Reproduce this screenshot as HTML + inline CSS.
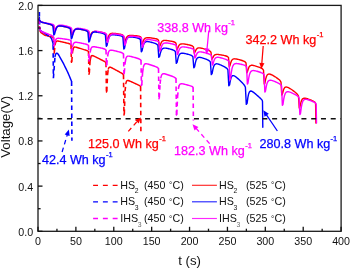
<!DOCTYPE html>
<html><head><meta charset="utf-8"><style>
html,body{margin:0;padding:0;background:#fff;width:350px;height:268px;overflow:hidden}
svg{display:block;font-family:"Liberation Sans",sans-serif;will-change:transform}
</style></head><body>
<svg width="350" height="268" viewBox="0 0 350 268">
<path d="M40 31 L41 32.6 L42.5 33.6 L45 35.3 L45.76 35.48 L46.52 35.65 L47.27 35.83 L48.03 36.01 L48.79 36.18 L49.55 36.37 L50.3 36.55 L51.06 36.75 L51.82 36.97 L52.58 37.24 L53.5 37.8" fill="none" stroke="#ff0000" stroke-width="1.45" stroke-linejoin="round" stroke-linecap="round" />
<path d="M53.95 53.4 L54.3 52.4" fill="none" stroke="#ff0000" stroke-width="1.45" stroke-linejoin="round" stroke-linecap="round" />
<path d="M55.06 44.78 L55.82 41.98 L56.57 41.15 L57.33 40.98 L58.09 41.04 L58.85 41.18 L59.6 41.34 L60.36 41.51 L61.12 41.68 L61.88 41.86 L62.63 42.03 L63.39 42.21 L64.15 42.39 L64.91 42.56 L65.66 42.74 L66.42 42.92 L67.18 43.1 L67.94 43.29 L68.69 43.49 L69.45 43.71 L70.21 44 L71 44.5" fill="none" stroke="#ff0000" stroke-width="1.45" stroke-linejoin="round" stroke-linecap="round" />
<path d="M71.45 62.3 L71.8 61.3" fill="none" stroke="#ff0000" stroke-width="1.45" stroke-linejoin="round" stroke-linecap="round" />
<path d="M73.31 48.24 L74.07 47.23 L74.83 47.04 L75.59 47.12 L76.34 47.3 L77.1 47.52 L77.86 47.74 L78.62 47.97 L79.38 48.2 L80.13 48.43 L80.89 48.66 L81.65 48.89 L82.41 49.12 L83.16 49.35 L83.92 49.58 L84.68 49.82 L85.44 50.06 L86.19 50.31 L86.95 50.6 L87.71 50.93 L88.5 51.5" fill="none" stroke="#ff0000" stroke-width="1.45" stroke-linejoin="round" stroke-linecap="round" />
<path d="M88.95 74.2 L89.3 73.2" fill="none" stroke="#ff0000" stroke-width="1.45" stroke-linejoin="round" stroke-linecap="round" />
<path d="M90.81 56.9 L91.57 55.73 L92.33 55.58 L93.09 55.78 L93.84 56.1 L94.6 56.46 L95.36 56.83 L96.12 57.21 L96.88 57.59 L97.63 57.97 L98.39 58.35 L99.15 58.72 L99.91 59.1 L100.66 59.48 L101.42 59.86 L102.18 60.25 L102.94 60.64 L103.69 61.04 L104.45 61.47 L105.21 61.96 L106 62.7" fill="none" stroke="#ff0000" stroke-width="1.45" stroke-linejoin="round" stroke-linecap="round" />
<path d="M106.45 92.1 L106.8 91.1" fill="none" stroke="#ff0000" stroke-width="1.45" stroke-linejoin="round" stroke-linecap="round" />
<path d="M108.31 69.02 L109.07 67.38 L109.83 67.1 L110.59 67.27 L111.34 67.6 L112.1 67.99 L112.86 68.39 L113.62 68.79 L114.38 69.2 L115.13 69.61 L115.89 70.02 L116.65 70.43 L117.41 70.85 L118.16 71.26 L118.92 71.67 L119.68 72.09 L120.44 72.51 L121.19 72.94 L121.95 73.4 L122.71 73.92 L123.5 74.7" fill="none" stroke="#ff0000" stroke-width="1.45" stroke-linejoin="round" stroke-linecap="round" />
<path d="M123.95 115 L124.3 114" fill="none" stroke="#ff0000" stroke-width="1.45" stroke-linejoin="round" stroke-linecap="round" />
<path d="M125.81 83.47 L126.57 81.04 L127.33 80.45 L128.09 80.48 L128.84 80.71 L129.6 81.02 L130.36 81.35 L131.12 81.69 L131.88 82.03 L132.63 82.37 L133.39 82.71 L134.15 83.06 L134.91 83.4 L135.66 83.74 L136.42 84.09 L137.18 84.44 L137.94 84.79 L138.69 85.16 L139.45 85.55 L140.21 86 L140.6 86.7" fill="none" stroke="#ff0000" stroke-width="1.45" stroke-linejoin="round" stroke-linecap="round" />
<path d="M38.8 19.5 L39.3 26 M39.3 26 L40 31 M53.5 37.8 L53.95 53.4 M54.3 52.4 L55.06 44.78 M71 44.5 L71.45 62.3 M71.8 61.3 L72.56 51.69 M72.56 51.69 L73.31 48.24 M88.5 51.5 L88.95 74.2 M89.3 73.2 L90.06 61.09 M90.06 61.09 L90.81 56.9 M106 62.7 L106.45 92.1 M106.8 91.1 L107.56 74.66 M107.56 74.66 L108.31 69.02 M123.5 74.7 L123.95 115 M124.3 114 L125.06 91.28 M125.06 91.28 L125.81 83.47 M140.6 86.7 L140.9 132.9" fill="none" stroke="#ff0000" stroke-width="1.5999999999999999" stroke-dasharray="4.5 3.5"/>
<path d="M39.4 17.5 L39.5 20" fill="none" stroke="#0000ff" stroke-width="1.45" stroke-linejoin="round" stroke-linecap="round" />
<path d="M39.7 28.9 L40.6 30.6 L42 31.6" fill="none" stroke="#0000ff" stroke-width="1.45" stroke-linejoin="round" stroke-linecap="round" />
<path d="M50.2 37.1 L51.5 38.6 L52.26 40.87 L53.02 43.19 L53.1 45.3" fill="none" stroke="#0000ff" stroke-width="1.45" stroke-linejoin="round" stroke-linecap="round" />
<path d="M55 56.5 L55 56.5 L55.6 54.2 L56.4 53.2 L57.2 53.2 L58 54 L59 55.5 L60 57.3 L61.13 59.33 L62.27 61.37 L63.4 63.4 L64.3 65.24 L65.2 67.08 L66.1 68.92 L67 70.76 L67.9 72.6 L68.68 74.45 L69.45 76.3 L70.22 78.15 L71 80 L71.6 81.6" fill="none" stroke="#0000ff" stroke-width="1.45" stroke-linejoin="round" stroke-linecap="round" />
<path d="M39.4 12 L39.4 17.5 M39.5 20 L39.7 28.9 M42 31.6 L45 33.4 M45 33.4 L50.2 37.1 M53.1 45.3 L53.4 78.3 M53.4 78.3 L55 56.5 M71.6 81.6 L71.9 140.8" fill="none" stroke="#0000ff" stroke-width="1.5999999999999999" stroke-dasharray="4.5 3.5"/>
<path d="M40.3 30 L41.2 31.3 L42.5 32 L45 32.8 L45.76 33.1 L46.52 33.4 L47.27 33.7 L48.03 34 L48.79 34.3 L49.55 34.61 L50.3 34.93 L51.06 35.26 L51.82 35.63 L52.58 36.08 L53.5 37" fill="none" stroke="#ff00ff" stroke-width="1.45" stroke-linejoin="round" stroke-linecap="round" />
<path d="M53.95 45.9 L54.3 44.9" fill="none" stroke="#ff00ff" stroke-width="1.45" stroke-linejoin="round" stroke-linecap="round" />
<path d="M55.06 41.39 L55.82 39.48 L56.57 38.7 L57.33 38.4 L58.09 38.32 L58.85 38.34 L59.6 38.39 L60.36 38.47 L61.12 38.55 L61.88 38.65 L62.63 38.74 L63.39 38.85 L64.15 38.95 L64.91 39.06 L65.66 39.17 L66.42 39.28 L67.18 39.4 L67.94 39.53 L68.69 39.69 L69.45 39.89 L70.21 40.18 L71 40.8" fill="none" stroke="#ff00ff" stroke-width="1.45" stroke-linejoin="round" stroke-linecap="round" />
<path d="M71.45 53.4 L71.8 52.4" fill="none" stroke="#ff00ff" stroke-width="1.45" stroke-linejoin="round" stroke-linecap="round" />
<path d="M72.56 46.8 L73.31 44 L74.07 42.86 L74.83 42.43 L75.59 42.31 L76.34 42.32 L77.1 42.4 L77.86 42.51 L78.62 42.63 L79.38 42.77 L80.13 42.91 L80.89 43.05 L81.65 43.2 L82.41 43.35 L83.16 43.51 L83.92 43.67 L84.68 43.84 L85.44 44.02 L86.19 44.23 L86.95 44.48 L87.71 44.82 L88.5 45.5" fill="none" stroke="#ff00ff" stroke-width="1.45" stroke-linejoin="round" stroke-linecap="round" />
<path d="M88.95 61.1 L89.3 60.1" fill="none" stroke="#ff00ff" stroke-width="1.45" stroke-linejoin="round" stroke-linecap="round" />
<path d="M90.81 49.02 L91.57 47.53 L92.33 46.95 L93.09 46.77 L93.84 46.76 L94.6 46.83 L95.36 46.94 L96.12 47.07 L96.88 47.2 L97.63 47.35 L98.39 47.5 L99.15 47.65 L99.91 47.81 L100.66 47.97 L101.42 48.14 L102.18 48.31 L102.94 48.5 L103.69 48.71 L104.45 48.96 L105.21 49.32 L106 50" fill="none" stroke="#ff00ff" stroke-width="1.45" stroke-linejoin="round" stroke-linecap="round" />
<path d="M106.45 65.6 L106.8 64.6" fill="none" stroke="#ff00ff" stroke-width="1.45" stroke-linejoin="round" stroke-linecap="round" />
<path d="M108.31 52.57 L109.07 50.97 L109.83 50.36 L110.59 50.17 L111.34 50.18 L112.1 50.27 L112.86 50.4 L113.62 50.55 L114.38 50.72 L115.13 50.89 L115.89 51.07 L116.65 51.25 L117.41 51.44 L118.16 51.63 L118.92 51.83 L119.68 52.03 L120.44 52.25 L121.19 52.5 L121.95 52.79 L122.71 53.17 L123.5 53.9" fill="none" stroke="#ff00ff" stroke-width="1.45" stroke-linejoin="round" stroke-linecap="round" />
<path d="M123.95 73.7 L124.3 72.7" fill="none" stroke="#ff00ff" stroke-width="1.45" stroke-linejoin="round" stroke-linecap="round" />
<path d="M125.81 58.82 L126.57 57 L127.33 56.3 L128.09 56.1 L128.84 56.1 L129.6 56.21 L130.36 56.36 L131.12 56.54 L131.88 56.73 L132.63 56.93 L133.39 57.14 L134.15 57.35 L134.91 57.57 L135.66 57.79 L136.42 58.02 L137.18 58.26 L137.94 58.51 L138.69 58.79 L139.45 59.11 L140.21 59.53 L141 60.3" fill="none" stroke="#ff00ff" stroke-width="1.45" stroke-linejoin="round" stroke-linecap="round" />
<path d="M141.45 85.6 L141.8 84.6" fill="none" stroke="#ff00ff" stroke-width="1.45" stroke-linejoin="round" stroke-linecap="round" />
<path d="M143.31 67.17 L144.07 64.9 L144.83 64.03 L145.59 63.76 L146.34 63.76 L147.1 63.88 L147.86 64.06 L148.62 64.26 L149.37 64.48 L150.13 64.71 L150.89 64.95 L151.65 65.2 L152.4 65.45 L153.16 65.71 L153.92 65.98 L154.68 66.25 L155.43 66.55 L156.19 66.86 L156.95 67.22 L157.71 67.69 L158.5 68.5" fill="none" stroke="#ff00ff" stroke-width="1.45" stroke-linejoin="round" stroke-linecap="round" />
<path d="M158.95 98.7 L159.3 97.7" fill="none" stroke="#ff00ff" stroke-width="1.45" stroke-linejoin="round" stroke-linecap="round" />
<path d="M160.81 77.68 L161.57 75.08 L162.33 74.06 L163.09 73.74 L163.84 73.72 L164.6 73.83 L165.36 74.01 L166.12 74.22 L166.87 74.45 L167.63 74.69 L168.39 74.94 L169.15 75.2 L169.9 75.46 L170.66 75.73 L171.42 76.01 L172.18 76.3 L172.93 76.6 L173.69 76.92 L174.45 77.3 L175.21 77.77 L176 78.6" fill="none" stroke="#ff00ff" stroke-width="1.45" stroke-linejoin="round" stroke-linecap="round" />
<path d="M176.45 115.1 L176.8 114.1" fill="none" stroke="#ff00ff" stroke-width="1.45" stroke-linejoin="round" stroke-linecap="round" />
<path d="M179.07 85.68 L179.83 84.35 L180.59 83.86 L181.34 83.74 L182.1 83.78 L182.86 83.9 L183.62 84.06 L184.37 84.23 L185.13 84.41 L185.89 84.6 L186.65 84.8 L187.4 85 L188.16 85.21 L188.92 85.42 L189.68 85.65 L190.43 85.88 L191.19 86.14 L191.95 86.45 L192.71 86.85 L193.1 87.6" fill="none" stroke="#ff00ff" stroke-width="1.45" stroke-linejoin="round" stroke-linecap="round" />
<path d="M38.8 19.3 L39.4 26.5 M39.4 26.5 L40.3 30 M53.5 37 L53.95 45.9 M54.3 44.9 L55.06 41.39 M71 40.8 L71.45 53.4 M71.8 52.4 L72.56 46.8 M88.5 45.5 L88.95 61.1 M89.3 60.1 L90.06 52.62 M90.06 52.62 L90.81 49.02 M106 50 L106.45 65.6 M106.8 64.6 L107.56 56.45 M107.56 56.45 L108.31 52.57 M123.5 53.9 L123.95 73.7 M124.3 72.7 L125.06 63.25 M125.06 63.25 L125.81 58.82 M141 60.3 L141.45 85.6 M141.8 84.6 L142.56 72.66 M142.56 72.66 L143.31 67.17 M158.5 68.5 L158.95 98.7 M159.3 97.7 L160.06 83.94 M160.06 83.94 L160.81 77.68 M176 78.6 L176.45 115.1 M176.8 114.1 L177.56 96.79 M177.56 96.79 L178.31 88.98 M178.31 88.98 L179.07 85.68 M193.1 87.6 L193.4 120.4" fill="none" stroke="#ff00ff" stroke-width="1.5999999999999999" stroke-dasharray="4.5 3.5"/>
<path d="M38.8 19.2 L39.6 20.6 L40.6 21.6 L42 22.3 L42.76 22.5 L43.52 22.69 L44.27 22.89 L45.03 23.08 L45.79 23.28 L46.55 23.48 L47.3 23.67 L48.06 23.87 L48.82 24.07 L49.58 24.28 L50.33 24.5 L51.09 24.74 L51.85 25.04 L52.6 25.45 L53.5 26.4 L54.25 31.3 L54.9 30.3 L55.66 28.75 L56.41 27.32 L57.17 26.53 L57.93 26.12 L58.69 25.93 L59.45 25.88 L60.2 25.91 L60.96 25.99 L61.72 26.1 L62.47 26.23 L63.23 26.38 L63.99 26.54 L64.75 26.7 L65.5 26.88 L66.26 27.06 L67.02 27.25 L67.78 27.46 L68.53 27.7 L69.29 27.99 L70.05 28.4 L71 29.4 L71.75 34.72 L72.4 33.72 L73.16 32.04 L73.91 30.51 L74.67 29.67 L75.43 29.23 L76.19 29.01 L76.94 28.94 L77.7 28.95 L78.46 29.02 L79.22 29.11 L79.97 29.23 L80.73 29.36 L81.49 29.5 L82.25 29.65 L83 29.81 L83.76 29.98 L84.52 30.15 L85.28 30.34 L86.03 30.56 L86.79 30.84 L87.55 31.23 L88.5 32.2 L89.25 37.7 L89.9 36.7 L90.66 34.89 L91.41 33.29 L92.17 32.39 L92.93 31.9 L93.69 31.66 L94.44 31.55 L95.2 31.54 L95.96 31.57 L96.72 31.64 L97.47 31.72 L98.23 31.82 L98.99 31.94 L99.75 32.05 L100.5 32.18 L101.26 32.31 L102.02 32.45 L102.78 32.61 L103.53 32.79 L104.29 33.03 L105.05 33.38 L106 34.3 L106.75 40.52 L107.4 39.52 L108.16 37.28 L108.91 35.43 L109.67 34.38 L110.43 33.8 L111.19 33.5 L111.94 33.36 L112.7 33.32 L113.46 33.33 L114.22 33.39 L114.97 33.46 L115.73 33.55 L116.49 33.65 L117.25 33.75 L118 33.87 L118.76 33.99 L119.52 34.12 L120.28 34.26 L121.03 34.43 L121.79 34.66 L122.55 35 L123.5 35.9 L124.25 42.54 L124.9 41.54 L125.66 39.41 L126.41 37.6 L127.17 36.57 L127.93 35.99 L128.69 35.67 L129.44 35.51 L130.2 35.44 L130.96 35.43 L131.72 35.44 L132.47 35.48 L133.23 35.53 L133.99 35.59 L134.75 35.66 L135.5 35.73 L136.26 35.8 L137.02 35.89 L137.78 35.98 L138.53 36.11 L139.29 36.28 L140.05 36.57 L141 37.4 L141.75 44.16 L142.4 43.16 L143.16 41.24 L143.91 39.56 L144.67 38.62 L145.43 38.1 L146.19 37.83 L146.94 37.71 L147.7 37.68 L148.46 37.7 L149.22 37.75 L149.97 37.82 L150.73 37.91 L151.49 38 L152.25 38.1 L153 38.21 L153.76 38.33 L154.52 38.45 L155.28 38.59 L156.03 38.76 L156.79 38.98 L157.55 39.31 L158.5 40.2 L159.25 46.96 L159.9 45.96 L160.66 43.96 L161.41 42.25 L162.17 41.29 L162.93 40.77 L163.69 40.51 L164.44 40.4 L165.2 40.39 L165.96 40.43 L166.72 40.5 L167.47 40.6 L168.23 40.7 L168.99 40.83 L169.75 40.95 L170.5 41.09 L171.26 41.23 L172.02 41.39 L172.78 41.55 L173.53 41.75 L174.29 42 L175.05 42.36 L176 43.3 L176.75 49.88 L177.4 48.88 L178.16 47.09 L178.91 45.5 L179.67 44.62 L180.43 44.16 L181.19 43.93 L181.94 43.85 L182.7 43.86 L183.46 43.92 L184.22 44.02 L184.97 44.13 L185.73 44.26 L186.49 44.4 L187.25 44.55 L188 44.71 L188.76 44.88 L189.52 45.05 L190.28 45.24 L191.03 45.46 L191.79 45.74 L192.55 46.13 L193.5 47.1 L194.25 53.2 L194.9 52.2 L195.66 50.63 L196.41 49.19 L197.17 48.42 L197.93 48.03 L198.69 47.88 L199.44 47.87 L200.2 47.94 L200.96 48.07 L201.72 48.23 L202.47 48.41 L203.23 48.61 L203.99 48.83 L204.75 49.05 L205.5 49.28 L206.26 49.53 L207.02 49.78 L207.78 50.06 L208.53 50.36 L209.29 50.72 L210.05 51.2 L211 52.3 L211.75 59.36 L212.4 58.36 L213.16 57.03 L213.91 55.72 L214.67 55 L215.43 54.62 L216.19 54.44 L216.94 54.39 L217.7 54.41 L218.46 54.48 L219.22 54.58 L219.97 54.69 L220.73 54.82 L221.49 54.96 L222.25 55.1 L223 55.25 L223.76 55.41 L224.52 55.58 L225.28 55.77 L226.03 55.98 L226.79 56.25 L227.55 56.63 L228.5 57.6 L229.25 66.76 L229.9 65.76 L230.66 63.07 L231.41 60.98 L232.17 59.82 L232.93 59.21 L233.69 58.92 L234.44 58.82 L235.2 58.84 L235.96 58.93 L236.72 59.06 L237.47 59.22 L238.23 59.4 L238.99 59.6 L239.75 59.8 L240.5 60.02 L241.26 60.25 L242.02 60.48 L242.78 60.74 L243.53 61.03 L244.29 61.37 L245.05 61.83 L246 62.9 L246.75 72.78 L247.4 71.78 L248.16 69.22 L248.91 67.22 L249.67 66.13 L250.43 65.57 L251.19 65.32 L251.94 65.26 L252.7 65.32 L253.46 65.45 L254.22 65.63 L254.97 65.83 L255.73 66.05 L256.49 66.3 L257.25 66.55 L258 66.82 L258.76 67.09 L259.52 67.38 L260.28 67.69 L261.04 68.03 L261.79 68.43 L262.55 68.95 L263.5 70.1 L264.25 84 L264.9 83 L265.66 79.15 L266.42 76.46 L267.17 75.02 L267.93 74.32 L268.69 74.06 L269.45 74.06 L270.2 74.23 L270.96 74.5 L271.72 74.84 L272.48 75.22 L273.23 75.64 L273.99 76.08 L274.75 76.55 L275.51 77.03 L276.26 77.53 L277.02 78.05 L277.78 78.59 L278.54 79.18 L279.29 79.82 L280.05 80.59 L281 82.1 L281.75 95 L282.4 94 L283.16 91 L283.92 88.81 L284.67 87.69 L285.43 87.18 L286.19 87.06 L286.95 87.16 L287.7 87.4 L288.46 87.73 L289.22 88.12 L289.98 88.56 L290.73 89.03 L291.49 89.52 L292.25 90.04 L293.01 90.58 L293.76 91.14 L294.52 91.72 L295.28 92.32 L296.04 92.96 L296.79 93.67 L297.55 94.5 L298.5 96.1 L299.25 108 L299.9 107 L300.66 103.4 L301.42 100.8 L302.17 99.37 L302.93 98.62 L303.69 98.28 L304.45 98.18 L305.2 98.23 L305.96 98.36 L306.72 98.55 L307.48 98.78 L308.23 99.04 L308.99 99.31 L309.75 99.6 L310.51 99.9 L311.26 100.22 L312.02 100.55 L312.78 100.9 L313.54 101.28 L314.29 101.73 L315.05 102.28 L315.6 103.5 L315.9 123" fill="none" stroke="#ff0000" stroke-width="1.4" stroke-linejoin="round" stroke-linecap="round" />
<path d="M96.42 32.07 L97.17 32.18 L97.93 32.3 L98.69 32.44 L99.45 32.6 L100.2 32.76 L100.96 32.93 L101.72 33.11 L102.48 33.31 L103.23 33.55 L103.99 33.87 L104.75 34.33 L105.4 35.1 L106.3 46.2 L107.1 45.2 L107.86 41.17 L108.61 38.27 L109.37 36.62 L110.13 35.69 L110.89 35.18 L111.64 34.92 L112.4 34.8 L113.16 34.78 L113.92 34.8 L114.67 34.86 L115.43 34.94 L116.19 35.03 L116.95 35.14 L117.7 35.25 L118.46 35.36 L119.22 35.49 L119.98 35.64 L120.73 35.83 L121.49 36.08 L122.25 36.49 L122.9 37.2 L123.8 49 L124.6 48 L125.36 43.64 L126.11 40.56 L126.87 38.81 L127.63 37.83 L128.39 37.3 L129.14 37.04 L129.9 36.93 L130.66 36.92 L131.42 36.96 L132.17 37.04 L132.93 37.15 L133.69 37.26 L134.45 37.39 L135.2 37.53 L135.96 37.68 L136.72 37.84 L137.48 38.02 L138.23 38.23 L138.99 38.52 L139.75 38.96 L140.4 39.7 L141.3 51.7 L142.1 50.7 L142.86 47.07 L143.61 44.44 L144.37 42.96 L145.13 42.16 L145.89 41.76 L146.64 41.59 L147.4 41.57 L148.16 41.63 L148.92 41.75 L149.67 41.9 L150.43 42.07 L151.19 42.26 L151.95 42.46 L152.7 42.67 L153.46 42.89 L154.22 43.13 L154.98 43.38 L155.73 43.68 L156.49 44.05 L157.25 44.57 L157.9 45.4 L158.8 57.4 L159.6 56.4 L160.36 53.15 L161.11 50.72 L161.87 49.36 L162.63 48.63 L163.39 48.26 L164.14 48.11 L164.9 48.09 L165.66 48.14 L166.42 48.25 L167.17 48.39 L167.93 48.54 L168.69 48.72 L169.45 48.9 L170.2 49.1 L170.96 49.3 L171.72 49.52 L172.48 49.76 L173.23 50.04 L173.99 50.39 L174.75 50.89 L175.4 51.7 L176.3 63.4 L177.1 62.4 L177.86 58.77 L178.61 56.13 L179.37 54.64 L180.13 53.83 L180.89 53.42 L181.64 53.24 L182.4 53.21 L183.16 53.25 L183.92 53.36 L184.67 53.49 L185.43 53.65 L186.19 53.82 L186.95 54 L187.7 54.2 L188.46 54.4 L189.22 54.62 L189.98 54.86 L190.73 55.14 L191.49 55.49 L192.25 55.99 L192.9 56.8 L193.8 67.7 L194.6 66.7 L195.36 62.88 L196.11 60.15 L196.87 58.64 L197.63 57.83 L198.39 57.45 L199.14 57.32 L199.9 57.34 L200.66 57.45 L201.42 57.62 L202.17 57.82 L202.93 58.05 L203.69 58.3 L204.45 58.57 L205.2 58.85 L205.96 59.14 L206.72 59.45 L207.48 59.78 L208.23 60.15 L208.99 60.59 L209.75 61.19 L210.4 62.1 L211.3 74.6 L212.1 73.6 L212.86 69.51 L213.61 66.64 L214.37 65.07 L215.13 64.26 L215.89 63.9 L216.64 63.81 L217.4 63.88 L218.16 64.05 L218.92 64.28 L219.67 64.56 L220.43 64.86 L221.19 65.19 L221.95 65.54 L222.7 65.9 L223.46 66.28 L224.22 66.67 L224.98 67.09 L225.73 67.56 L226.49 68.1 L227.25 68.79 L227.9 69.8 L228.8 85.8 L229.6 84.8 L230.36 80.48 L231.11 77.64 L231.87 76.23 L232.63 75.66 L233.39 75.59 L234.14 75.82 L234.9 76.23 L235.66 76.75 L236.42 77.34 L237.17 77.97 L237.93 78.64 L238.69 79.33 L239.45 80.04 L240.2 80.76 L240.96 81.5 L241.72 82.26 L242.48 83.05 L243.23 83.87 L243.99 84.78 L244.75 85.84 L245.4 87.2 L246.3 104.4 L247.1 103.4 L247.86 97.59 L248.61 93.9 L249.37 92.03 L250.13 91.22 L250.89 91.03 L251.64 91.2 L252.4 91.57 L253.16 92.07 L253.92 92.64 L254.67 93.25 L255.43 93.88 L256.19 94.53 L256.95 95.19 L257.7 95.85 L258.46 96.52 L259.22 97.2 L259.98 97.89 L260.74 98.62 L261.49 99.42 L262.25 100.36 L262.5 101.6 L262.8 127.3" fill="none" stroke="#0000ff" stroke-width="1.4" stroke-linejoin="round" stroke-linecap="round" />
<path d="M38.8 19.2 L39.6 20.6 L40.6 21.6 L42 22.3 L42.76 22.43 L43.52 22.56 L44.27 22.69 L45.03 22.82 L45.79 22.95 L46.55 23.08 L47.3 23.21 L48.06 23.35 L48.82 23.48 L49.58 23.61 L50.33 23.76 L51.09 23.91 L51.85 24.1 L52.6 24.35 L53.36 24.73 L54.1 25.5 L54.85 31.9 L55.5 30.9 L56.26 28.77 L57.02 26.99 L57.77 26 L58.53 25.47 L59.29 25.21 L60.05 25.12 L60.8 25.12 L61.56 25.18 L62.32 25.28 L63.08 25.4 L63.83 25.54 L64.59 25.69 L65.35 25.85 L66.11 26.02 L66.86 26.2 L67.62 26.39 L68.38 26.59 L69.14 26.82 L69.89 27.11 L70.65 27.51 L71.6 28.5 L72.35 35.42 L73 34.42 L73.76 32.15 L74.51 30.29 L75.27 29.25 L76.03 28.69 L76.79 28.41 L77.54 28.3 L78.3 28.29 L79.06 28.34 L79.82 28.42 L80.57 28.54 L81.33 28.66 L82.09 28.8 L82.85 28.95 L83.6 29.11 L84.36 29.28 L85.12 29.45 L85.88 29.64 L86.63 29.86 L87.39 30.14 L88.15 30.53 L89.1 31.5 L89.85 38.65 L90.5 37.65 L91.26 35.28 L92.01 33.36 L92.77 32.29 L93.53 31.7 L94.29 31.41 L95.04 31.29 L95.8 31.27 L96.56 31.31 L97.32 31.4 L98.07 31.5 L98.83 31.63 L99.59 31.76 L100.35 31.9 L101.1 32.06 L101.86 32.22 L102.62 32.39 L103.38 32.57 L104.13 32.78 L104.89 33.05 L105.65 33.43 L106.6 34.4 L107.35 42.45 L108 41.45 L108.76 38.66 L109.51 36.48 L110.27 35.24 L111.03 34.55 L111.79 34.19 L112.54 34.01 L113.3 33.95 L114.06 33.95 L114.82 34 L115.57 34.07 L116.33 34.15 L117.09 34.25 L117.85 34.36 L118.6 34.47 L119.36 34.59 L120.12 34.72 L120.88 34.86 L121.63 35.03 L122.39 35.26 L123.15 35.6 L124.1 36.5 L124.85 45.07 L125.5 44.07 L126.26 41.14 L127.01 38.88 L127.77 37.58 L128.53 36.86 L129.29 36.47 L130.04 36.27 L130.8 36.19 L131.56 36.18 L132.32 36.21 L133.07 36.26 L133.83 36.33 L134.59 36.42 L135.35 36.51 L136.1 36.6 L136.86 36.71 L137.62 36.82 L138.38 36.95 L139.13 37.1 L139.89 37.31 L140.65 37.62 L141.6 38.5 L142.35 47.23 L143 46.23 L143.76 43.74 L144.51 41.75 L145.27 40.63 L146.03 40.02 L146.79 39.7 L147.54 39.57 L148.3 39.54 L149.06 39.57 L149.82 39.64 L150.57 39.73 L151.33 39.85 L152.09 39.97 L152.85 40.1 L153.6 40.25 L154.36 40.39 L155.12 40.55 L155.88 40.73 L156.63 40.93 L157.39 41.18 L158.15 41.55 L159.1 42.5 L159.85 51.23 L160.5 50.23 L161.26 47.45 L162.01 45.3 L162.77 44.09 L163.53 43.43 L164.29 43.09 L165.04 42.94 L165.8 42.91 L166.56 42.95 L167.32 43.03 L168.07 43.14 L168.83 43.27 L169.59 43.41 L170.35 43.55 L171.1 43.71 L171.86 43.88 L172.62 44.05 L173.38 44.24 L174.13 44.46 L174.89 44.74 L175.65 45.13 L176.6 46.1 L177.35 54.6 L178 53.6 L178.76 51.09 L179.51 49.09 L180.27 47.96 L181.03 47.35 L181.79 47.05 L182.54 46.92 L183.3 46.9 L184.06 46.94 L184.82 47.03 L185.57 47.14 L186.33 47.27 L187.09 47.41 L187.85 47.55 L188.6 47.71 L189.36 47.88 L190.12 48.05 L190.88 48.24 L191.63 48.46 L192.39 48.74 L193.15 49.13 L194.1 50.1 L194.85 58 L195.5 57 L196.26 55.09 L197.01 53.45 L197.77 52.55 L198.53 52.09 L199.29 51.88 L200.04 51.83 L200.8 51.88 L201.56 51.98 L202.32 52.12 L203.07 52.28 L203.83 52.46 L204.59 52.65 L205.35 52.85 L206.1 53.06 L206.86 53.28 L207.62 53.52 L208.38 53.77 L209.13 54.05 L209.89 54.39 L210.65 54.84 L211.6 55.9 L212.35 65 L213 64 L213.76 61.38 L214.51 59.34 L215.27 58.22 L216.03 57.63 L216.79 57.36 L217.54 57.28 L218.3 57.32 L219.06 57.43 L219.82 57.58 L220.57 57.76 L221.33 57.96 L222.09 58.17 L222.85 58.4 L223.6 58.64 L224.36 58.89 L225.12 59.15 L225.88 59.43 L226.63 59.74 L227.39 60.11 L228.15 60.59 L229.1 61.7 L229.85 80 L230.5 79 L231.26 72.73 L232.01 68.55 L232.77 66.16 L233.53 64.82 L234.29 64.09 L235.04 63.72 L235.8 63.57 L236.56 63.54 L237.32 63.59 L238.07 63.68 L238.83 63.81 L239.59 63.95 L240.35 64.11 L241.1 64.28 L241.86 64.46 L242.62 64.65 L243.38 64.86 L244.13 65.1 L244.89 65.39 L245.65 65.8 L246.6 66.8 L247.35 84 L248 83 L248.76 77.92 L249.51 74.44 L250.27 72.48 L251.03 71.41 L251.79 70.86 L252.54 70.61 L253.3 70.55 L254.06 70.6 L254.82 70.72 L255.57 70.88 L256.33 71.07 L257.09 71.28 L257.85 71.51 L258.61 71.74 L259.36 71.99 L260.12 72.25 L260.88 72.53 L261.63 72.84 L262.39 73.21 L263.15 73.69 L264.1 74.8 L264.85 92 L265.5 91 L266.26 86.53 L267.02 83.43 L267.77 81.71 L268.53 80.81 L269.29 80.39 L270.05 80.25 L270.8 80.28 L271.56 80.42 L272.32 80.62 L273.08 80.86 L273.83 81.14 L274.59 81.44 L275.35 81.75 L276.11 82.08 L276.86 82.43 L277.62 82.78 L278.38 83.16 L279.14 83.58 L279.89 84.05 L280.65 84.64 L281.6 85.9 L282.35 105.3 L283 104.3 L283.76 99 L284.52 95.43 L285.27 93.45 L286.03 92.41 L286.79 91.91 L287.55 91.74 L288.3 91.77 L289.06 91.92 L289.82 92.14 L290.58 92.41 L291.33 92.72 L292.09 93.05 L292.85 93.4 L293.61 93.77 L294.36 94.15 L295.12 94.55 L295.88 94.97 L296.64 95.43 L297.39 95.94 L298.15 96.58 L299.1 97.9 L299.85 114.5 L300.5 113.5 L301.26 107.6 L302.02 103.66 L302.77 101.45 L303.53 100.24 L304.29 99.64 L305.05 99.38 L305.8 99.33 L306.56 99.41 L307.32 99.57 L308.08 99.77 L308.83 100.01 L309.59 100.28 L310.35 100.56 L311.11 100.85 L311.86 101.16 L312.62 101.49 L313.38 101.83 L314.14 102.21 L314.89 102.64 L315.65 103.19 L316.2 104.4 L316.5 123" fill="none" stroke="#ff00ff" stroke-width="1.4" stroke-linejoin="round" stroke-linecap="round" />
<path d="M38.8 19.2 L39.6 20.6 L40.6 21.6 L42 22.3 L42.76 22.49 L43.52 22.67 L44.27 22.86 L45.03 23.04 L45.79 23.23 L46.55 23.42 L47.3 23.61 L48.06 23.8 L48.82 23.99 L49.58 24.2 L50.33 24.42 L51.09 24.69 L51.85 25.06 L52.6 25.64 L52.9 26.1 L53.8 35 L54.6 34 L55.36 30.9 L56.12 28.56 L56.87 27.24 L57.63 26.52 L58.39 26.15 L59.15 25.99 L59.9 25.95 L60.66 25.98 L61.42 26.06 L62.17 26.17 L62.93 26.3 L63.69 26.44 L64.45 26.59 L65.2 26.76 L65.96 26.93 L66.72 27.11 L67.48 27.31 L68.23 27.55 L68.99 27.87 L69.75 28.33 L70.4 29.1 L71.3 38.7 L72.1 37.7 L72.86 34.31 L73.61 31.8 L74.37 30.38 L75.13 29.6 L75.89 29.2 L76.64 29.01 L77.4 28.96 L78.16 28.99 L78.92 29.07 L79.67 29.17 L80.43 29.3 L81.19 29.44 L81.95 29.59 L82.7 29.76 L83.46 29.93 L84.22 30.11 L84.98 30.31 L85.73 30.55 L86.49 30.87 L87.25 31.33 L87.9 32.1 L88.8 42 L89.6 41 L90.36 37.49 L91.11 34.9 L91.87 33.44 L92.63 32.64 L93.39 32.22 L94.14 32.03 L94.9 31.97 L95.66 32 L96.42 32.07" fill="none" stroke="#0000ff" stroke-width="1.4" stroke-linejoin="round" stroke-linecap="round" />
<line x1="37.63" y1="118.7" x2="341" y2="118.7" stroke="#111" stroke-width="1.35" stroke-dasharray="5 4.77"/>
<line x1="208.8" y1="30.5" x2="206.98" y2="49.52" stroke="#ff00ff" stroke-width="1.25" /><path d="M206.5 54.5 L204.48 48.28 L209.66 48.78 Z" fill="#ff00ff"/>
<line x1="263.2" y1="46" x2="261.79" y2="64.02" stroke="#ff0000" stroke-width="1.25" /><path d="M261.4 69 L259.28 62.82 L264.46 63.22 Z" fill="#ff0000"/>
<line x1="128.3" y1="131.3" x2="137.54" y2="121.1" stroke="#ff0000" stroke-width="1.25" stroke-dasharray="4.5 3.5"/><path d="M140.9 117.4 L138.8 123.59 L134.94 120.1 Z" fill="#ff0000"/>
<line x1="62.1" y1="152" x2="67.46" y2="134.19" stroke="#0000ff" stroke-width="1.25" stroke-dasharray="4.5 3.5"/><path d="M68.9 129.4 L69.66 135.89 L64.68 134.4 Z" fill="#0000ff"/>
<line x1="209.6" y1="143.6" x2="195.81" y2="127.95" stroke="#ff00ff" stroke-width="1.25" stroke-dasharray="4.5 3.5"/><path d="M192.5 124.2 L198.42 126.98 L194.52 130.42 Z" fill="#ff00ff"/>
<line x1="277.4" y1="131" x2="266.11" y2="114.43" stroke="#0000ff" stroke-width="1.25" /><path d="M263.3 110.3 L268.83 113.8 L264.53 116.72 Z" fill="#0000ff"/>
<rect x="38.0" y="5.4" width="303.1" height="225.9" fill="none" stroke="#1a1a1a" stroke-width="1.3"/>
<line x1="38" y1="231.3" x2="38" y2="226.8" stroke="#111" stroke-width="1.3"/>
<line x1="56.94" y1="231.3" x2="56.94" y2="228.7" stroke="#111" stroke-width="1.3"/>
<line x1="75.89" y1="231.3" x2="75.89" y2="226.8" stroke="#111" stroke-width="1.3"/>
<line x1="94.83" y1="231.3" x2="94.83" y2="228.7" stroke="#111" stroke-width="1.3"/>
<line x1="113.78" y1="231.3" x2="113.78" y2="226.8" stroke="#111" stroke-width="1.3"/>
<line x1="132.72" y1="231.3" x2="132.72" y2="228.7" stroke="#111" stroke-width="1.3"/>
<line x1="151.66" y1="231.3" x2="151.66" y2="226.8" stroke="#111" stroke-width="1.3"/>
<line x1="170.61" y1="231.3" x2="170.61" y2="228.7" stroke="#111" stroke-width="1.3"/>
<line x1="189.55" y1="231.3" x2="189.55" y2="226.8" stroke="#111" stroke-width="1.3"/>
<line x1="208.49" y1="231.3" x2="208.49" y2="228.7" stroke="#111" stroke-width="1.3"/>
<line x1="227.44" y1="231.3" x2="227.44" y2="226.8" stroke="#111" stroke-width="1.3"/>
<line x1="246.38" y1="231.3" x2="246.38" y2="228.7" stroke="#111" stroke-width="1.3"/>
<line x1="265.32" y1="231.3" x2="265.32" y2="226.8" stroke="#111" stroke-width="1.3"/>
<line x1="284.27" y1="231.3" x2="284.27" y2="228.7" stroke="#111" stroke-width="1.3"/>
<line x1="303.21" y1="231.3" x2="303.21" y2="226.8" stroke="#111" stroke-width="1.3"/>
<line x1="322.16" y1="231.3" x2="322.16" y2="228.7" stroke="#111" stroke-width="1.3"/>
<line x1="341.1" y1="231.3" x2="341.1" y2="226.8" stroke="#111" stroke-width="1.3"/>
<line x1="38" y1="231.3" x2="42.5" y2="231.3" stroke="#111" stroke-width="1.3"/>
<line x1="38" y1="208.71" x2="40.6" y2="208.71" stroke="#111" stroke-width="1.3"/>
<line x1="38" y1="186.12" x2="42.5" y2="186.12" stroke="#111" stroke-width="1.3"/>
<line x1="38" y1="163.53" x2="40.6" y2="163.53" stroke="#111" stroke-width="1.3"/>
<line x1="38" y1="140.94" x2="42.5" y2="140.94" stroke="#111" stroke-width="1.3"/>
<line x1="38" y1="118.35" x2="40.6" y2="118.35" stroke="#111" stroke-width="1.3"/>
<line x1="38" y1="95.76" x2="42.5" y2="95.76" stroke="#111" stroke-width="1.3"/>
<line x1="38" y1="73.17" x2="40.6" y2="73.17" stroke="#111" stroke-width="1.3"/>
<line x1="38" y1="50.58" x2="42.5" y2="50.58" stroke="#111" stroke-width="1.3"/>
<line x1="38" y1="27.99" x2="40.6" y2="27.99" stroke="#111" stroke-width="1.3"/>
<line x1="38" y1="5.4" x2="42.5" y2="5.4" stroke="#111" stroke-width="1.3"/>
<line x1="93.1" y1="185.3" x2="117.7" y2="185.3" stroke="#ff0000" stroke-width="1.35" stroke-dasharray="4.9 4.9"/>
<line x1="192.0" y1="185.3" x2="216.9" y2="185.3" stroke="#ff0000" stroke-width="1.15" opacity="0.85"/>
<line x1="93.1" y1="201.8" x2="117.7" y2="201.8" stroke="#0000ff" stroke-width="1.35" stroke-dasharray="4.9 4.9"/>
<line x1="192.0" y1="201.8" x2="216.9" y2="201.8" stroke="#0000ff" stroke-width="1.15" opacity="0.85"/>
<line x1="93.1" y1="218.5" x2="117.7" y2="218.5" stroke="#ff00ff" stroke-width="1.35" stroke-dasharray="4.9 4.9"/>
<line x1="192.0" y1="218.5" x2="216.9" y2="218.5" stroke="#ff00ff" stroke-width="1.15" opacity="0.85"/>
<text x="33.2" y="235.7" font-size="10.7" fill="#111" text-anchor="end" >0.0</text>
<text x="33.2" y="190.52" font-size="10.7" fill="#111" text-anchor="end" >0.4</text>
<text x="33.2" y="145.34" font-size="10.7" fill="#111" text-anchor="end" >0.8</text>
<text x="33.2" y="100.16" font-size="10.7" fill="#111" text-anchor="end" >1.2</text>
<text x="33.2" y="54.98" font-size="10.7" fill="#111" text-anchor="end" >1.6</text>
<text x="33.2" y="9.8" font-size="10.7" fill="#111" text-anchor="end" >2.0</text>
<text x="38" y="244.7" font-size="10.7" fill="#111" text-anchor="middle" >0</text>
<text x="75.89" y="244.7" font-size="10.7" fill="#111" text-anchor="middle" >50</text>
<text x="113.78" y="244.7" font-size="10.7" fill="#111" text-anchor="middle" >100</text>
<text x="151.66" y="244.7" font-size="10.7" fill="#111" text-anchor="middle" >150</text>
<text x="189.55" y="244.7" font-size="10.7" fill="#111" text-anchor="middle" >200</text>
<text x="227.44" y="244.7" font-size="10.7" fill="#111" text-anchor="middle" >250</text>
<text x="265.32" y="244.7" font-size="10.7" fill="#111" text-anchor="middle" >300</text>
<text x="303.21" y="244.7" font-size="10.7" fill="#111" text-anchor="middle" >350</text>
<text x="341.1" y="244.7" font-size="10.7" fill="#111" text-anchor="middle" >400</text>
<text x="189.6" y="264.8" font-size="13.2" fill="#111" text-anchor="middle" >t (s)</text>
<text transform="translate(9.7,126.8) rotate(-90)" font-size="13.3" fill="#111" text-anchor="middle">Voltage(V)</text>
<text x="157.2" y="31.6" font-size="12.6" fill="#ff00ff" stroke="#ff00ff" stroke-width="0.25">338.8 Wh kg<tspan font-size="7.5" dy="-7.0" dx="0.4">-1</tspan></text>
<text x="245.6" y="43.6" font-size="12.6" fill="#ff0000" stroke="#ff0000" stroke-width="0.25">342.2 Wh kg<tspan font-size="7.5" dy="-7.0" dx="0.4">-1</tspan></text>
<text x="88.1" y="147.5" font-size="12.6" fill="#ff0000" stroke="#ff0000" stroke-width="0.25">125.0 Wh kg<tspan font-size="7.5" dy="-7.0" dx="0.4">-1</tspan></text>
<text x="41.9" y="164" font-size="12.6" fill="#0000ff" stroke="#0000ff" stroke-width="0.25">42.4 Wh kg<tspan font-size="7.5" dy="-7.0" dx="0.4">-1</tspan></text>
<text x="174.1" y="154.6" font-size="12.6" fill="#ff00ff" stroke="#ff00ff" stroke-width="0.25">182.3 Wh kg<tspan font-size="7.5" dy="-7.0" dx="0.4">-1</tspan></text>
<text x="259.5" y="147.8" font-size="12.6" fill="#0000ff" stroke="#0000ff" stroke-width="0.25">280.8 Wh kg<tspan font-size="7.5" dy="-7.0" dx="0.4">-1</tspan></text>
<text x="120.2" y="188.9" font-size="10.7" fill="#111">HS<tspan font-size="6.8" dy="4.5" dx="-0.3">2</tspan></text>
<text x="144" y="188.9" font-size="10.7" fill="#111">(450 <tspan font-size="8.2" dx="0.6" dy="-0.6">°</tspan><tspan dy="0.6" dx="0.2">C)</tspan></text>
<text x="219" y="188.9" font-size="10.7" fill="#111">HS<tspan font-size="6.8" dy="4.5" dx="-0.3">2</tspan></text>
<text x="246" y="188.9" font-size="10.7" fill="#111">(525 <tspan font-size="8.2" dx="0.6" dy="-0.6">°</tspan><tspan dy="0.6" dx="0.2">C)</tspan></text>
<text x="120.2" y="205.4" font-size="10.7" fill="#111">HS<tspan font-size="6.8" dy="4.5" dx="-0.3">3</tspan></text>
<text x="144" y="205.4" font-size="10.7" fill="#111">(450 <tspan font-size="8.2" dx="0.6" dy="-0.6">°</tspan><tspan dy="0.6" dx="0.2">C)</tspan></text>
<text x="219" y="205.4" font-size="10.7" fill="#111">HS<tspan font-size="6.8" dy="4.5" dx="-0.3">3</tspan></text>
<text x="246" y="205.4" font-size="10.7" fill="#111">(525 <tspan font-size="8.2" dx="0.6" dy="-0.6">°</tspan><tspan dy="0.6" dx="0.2">C)</tspan></text>
<text x="120.2" y="222.1" font-size="10.7" fill="#111">IHS<tspan font-size="6.8" dy="4.5" dx="-0.3" fill-opacity="0.65">3</tspan></text>
<text x="144" y="222.1" font-size="10.7" fill="#111">(450 <tspan font-size="8.2" dx="0.6" dy="-0.6">°</tspan><tspan dy="0.6" dx="0.2">C)</tspan></text>
<text x="219" y="222.1" font-size="10.7" fill="#111">IHS<tspan font-size="6.8" dy="4.5" dx="-0.3" fill-opacity="0.65">3</tspan></text>
<text x="246" y="222.1" font-size="10.7" fill="#111">(525 <tspan font-size="8.2" dx="0.6" dy="-0.6">°</tspan><tspan dy="0.6" dx="0.2">C)</tspan></text>
</svg>
</body></html>
